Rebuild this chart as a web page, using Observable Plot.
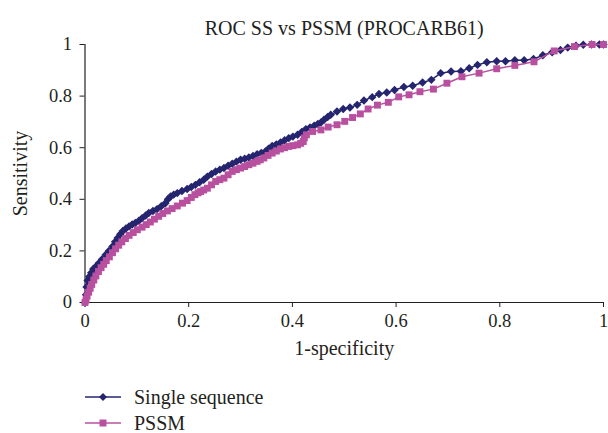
<!DOCTYPE html>
<html><head><meta charset="utf-8">
<script src="https://cdn.jsdelivr.net/npm/d3@7"></script>
<script src="https://cdn.jsdelivr.net/npm/@observablehq/plot@0.6"></script>
<style>
body{margin:0;background:#fff;}
#wrap{position:relative;width:608px;height:433px;overflow:hidden;}
#chart{position:absolute;left:0;top:0;}
#legend{position:absolute;left:84px;top:384px;}
</style></head><body><div id="wrap"><div id="chart"></div><div id="legend"></div></div>
<script>
const title = "ROC SS vs PSSM (PROCARB61)";
const xLabel = "1-specificity";
const yLabel = "Sensitivity";
const seriesNames = ["Single sequence", "PSSM"];
const seriesColors = ["#25246f", "#b8509f"];
const xTicks = [0, 0.2, 0.4, 0.6, 0.8, 1];
const yTicks = [0, 0.2, 0.4, 0.6, 0.8, 1];

const ssX = [0,0.002,0.003,0.005,0.008,0.012,0.016,0.021,0.027,0.033,0.040,0.046,0.053,0.058,0.063,0.068,0.073,0.079,0.085,0.091,0.097,0.104,0.110,0.117,0.123,0.131,0.139,0.147,0.155,0.160,0.165,0.171,0.178,0.187,0.197,0.205,0.213,0.221,0.229,0.236,0.244,0.252,0.260,0.268,0.276,0.284,0.292,0.300,0.308,0.316,0.324,0.332,0.340,0.348,0.354,0.361,0.369,0.377,0.385,0.393,0.401,0.410,0.418,0.426,0.434,0.442,0.449,0.455,0.461,0.468,0.474,0.486,0.498,0.511,0.525,0.538,0.554,0.567,0.582,0.597,0.615,0.632,0.651,0.668,0.686,0.706,0.725,0.741,0.757,0.775,0.794,0.811,0.829,0.847,0.865,0.883,0.901,0.917,0.931,0.947,0.961,0.977,0.992,1.0];
const ssY = [0,0.03,0.06,0.085,0.10,0.115,0.13,0.14,0.153,0.168,0.185,0.20,0.217,0.235,0.25,0.265,0.277,0.287,0.295,0.302,0.308,0.317,0.327,0.337,0.347,0.355,0.362,0.373,0.385,0.400,0.411,0.418,0.424,0.432,0.440,0.448,0.456,0.466,0.476,0.488,0.498,0.508,0.515,0.521,0.530,0.538,0.546,0.553,0.557,0.562,0.568,0.575,0.580,0.585,0.596,0.607,0.613,0.620,0.629,0.637,0.643,0.650,0.661,0.672,0.678,0.685,0.692,0.698,0.708,0.719,0.728,0.740,0.750,0.756,0.766,0.783,0.796,0.808,0.814,0.824,0.835,0.840,0.853,0.863,0.889,0.895,0.896,0.908,0.921,0.931,0.935,0.935,0.939,0.939,0.944,0.958,0.970,0.979,0.988,0.995,0.999,1.0,1.0,1.0];

const pssmX = [0,0.002,0.004,0.007,0.010,0.013,0.017,0.021,0.026,0.031,0.036,0.041,0.047,0.053,0.059,0.065,0.071,0.078,0.085,0.093,0.101,0.110,0.118,0.126,0.134,0.142,0.150,0.159,0.168,0.178,0.188,0.197,0.205,0.212,0.218,0.223,0.229,0.236,0.244,0.252,0.260,0.268,0.276,0.284,0.292,0.300,0.308,0.316,0.324,0.332,0.338,0.345,0.353,0.361,0.369,0.377,0.385,0.393,0.401,0.410,0.416,0.421,0.423,0.427,0.439,0.455,0.469,0.486,0.501,0.516,0.531,0.546,0.564,0.585,0.605,0.625,0.646,0.672,0.698,0.727,0.760,0.794,0.829,0.866,0.905,0.944,0.978,1.0];
const pssmY = [0,0.01,0.025,0.04,0.055,0.07,0.087,0.103,0.12,0.135,0.148,0.162,0.177,0.193,0.208,0.222,0.235,0.248,0.26,0.271,0.282,0.292,0.302,0.312,0.323,0.334,0.345,0.355,0.364,0.374,0.385,0.395,0.407,0.418,0.425,0.430,0.436,0.443,0.456,0.469,0.476,0.482,0.495,0.508,0.515,0.521,0.527,0.534,0.540,0.547,0.553,0.560,0.570,0.579,0.587,0.595,0.600,0.605,0.608,0.611,0.617,0.624,0.638,0.650,0.663,0.669,0.680,0.689,0.702,0.717,0.731,0.750,0.765,0.776,0.797,0.805,0.817,0.827,0.850,0.875,0.889,0.906,0.919,0.933,0.975,0.992,1.0,1.0];

const ss = ssX.map((x, i) => ({x, y: ssY[i]}));
const pssm = pssmX.map((x, i) => ({x, y: pssmY[i]}));
const ink = "#231f20";
const serif = "Liberation Serif, DejaVu Serif, serif";

const chart = Plot.plot({
  width: 608, height: 380,
  marginLeft: 84.5, marginRight: 5, marginTop: 44, marginBottom: 78,
  style: {fontFamily: serif, fontSize: "18px", color: ink, background: "#fff"},
  x: {domain: [0, 1]},
  y: {domain: [0, 1]},
  marks: [
    Plot.ruleX([0], {stroke: ink, strokeWidth: 1.2}),
    Plot.ruleY([0], {stroke: ink, strokeWidth: 1.2}),
    Plot.axisX({ticks: xTicks, tickFormat: d => String(d), tickSize: 5, tickPadding: 6, fontSize: 18.5, label: null, stroke: ink}),
    Plot.axisY({ticks: yTicks, tickFormat: d => String(d), tickSize: 5, tickPadding: 8, fontSize: 18.5, label: null, stroke: ink}),
    Plot.line(ss, {x: "x", y: "y", stroke: seriesColors[0], strokeWidth: 1.5}),
    Plot.dot(ss, {x: "x", y: "y", symbol: "diamond2", fill: seriesColors[0], r: 3.8}),
    Plot.line(pssm, {x: "x", y: "y", stroke: seriesColors[1], strokeWidth: 1.5}),
    Plot.dot(pssm, {x: "x", y: "y", symbol: "square", fill: seriesColors[1], r: 3.9}),
    Plot.text([title], {frameAnchor: "top", dy: -24, fontSize: 20, fill: ink}),
    Plot.text([xLabel], {frameAnchor: "bottom", dy: 52, fontSize: 20, fill: ink}),
    Plot.text([yLabel], {frameAnchor: "left", textAnchor: "middle", dx: -64.5, rotate: -90, fontSize: 20, fill: ink})
  ]
});
document.getElementById("chart").appendChild(chart);

const symbols = ["M18,-4 L22,0 L18,4 L14,0 Z", "M14.5,-3.5 H21.5 V3.5 H14.5 Z"];
const rows = seriesNames.map((name, i) =>
  `<g transform="translate(1,${13 + i * 26})"><line x1="0" y1="0" x2="36" y2="0" stroke="${seriesColors[i]}" stroke-width="1.5"/><path d="${symbols[i]}" fill="${seriesColors[i]}"/><text x="49" y="0" dy="0.35em" font-family="${serif}" font-size="20" fill="${ink}">${name}</text></g>`
).join("");
document.getElementById("legend").innerHTML = `<svg width="260" height="52">${rows}</svg>`;
</script>
</body></html>
